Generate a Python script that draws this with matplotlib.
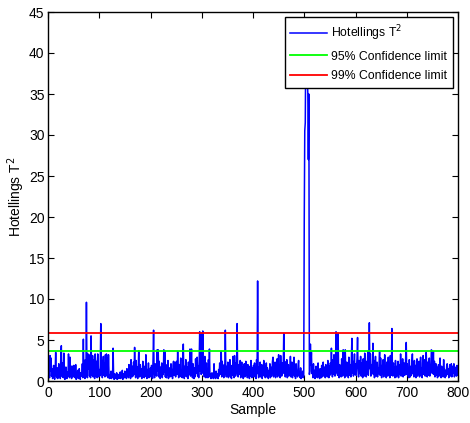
"""
Gráfico T^2 de Hotelling por muestra con límites de confianza 95% / 99%.
Valores leídos a ojo de la figura original.
"""
import numpy as np
import matplotlib
matplotlib.use("Agg")
import matplotlib.pyplot as plt

plt.rcParams['font.family'] = ['Liberation Sans', 'DejaVu Sans']

# T^2 por bloques de 100 muestras
t2_000 = [0.8, 2.3, 0.4, 3.1, 1.2, 2.8, 0.6, 1.5, 0.3, 0.9,
          1.9, 0.5, 0.2, 1.1, 3.5, 0.7, 0.4, 1.6, 0.3, 0.8,
          2.1, 0.6, 1.4, 0.3, 3.0, 4.3, 1.0, 0.5, 2.2, 0.4,
          3.4, 1.3, 0.2, 0.9, 1.7, 0.5, 0.3, 1.1, 0.6, 3.3,
          0.8, 0.4, 2.9, 0.6, 1.8, 0.3, 1.8, 1.2, 0.5, 1.9,
          0.7, 1.8, 0.4, 2.0, 0.2, 0.9, 0.5, 1.3, 0.3, 0.6,
          1.5, 0.4, 0.2, 1.0, 0.6, 0.8, 2.1, 0.4, 5.1, 0.6,
          1.2, 0.3, 2.6, 0.5, 9.6, 0.9, 0.4, 3.3, 1.5, 3.2,
          0.6, 2.0, 0.4, 5.5, 1.3, 0.7, 3.1, 0.5, 2.6, 1.0,
          0.3, 3.3, 1.8, 0.6, 2.4, 0.4, 3.3, 0.8, 0.5, 1.4]
t2_100 = [0.6, 1.9, 7.0, 0.8, 2.5, 0.4, 1.6, 3.0, 0.7, 2.2,
          0.5, 3.2, 1.1, 3.3, 0.6, 2.8, 0.4, 3.2, 1.0, 0.3,
          0.7, 0.4, 1.2, 0.3, 0.8, 0.5, 4.0, 0.6, 0.2, 0.9,
          0.4, 0.6, 0.3, 1.0, 0.2, 0.5, 0.8, 0.3, 0.6, 0.4,
          1.1, 0.3, 0.7, 0.5, 1.3, 0.2, 0.6, 0.9, 0.4, 1.2,
          0.5, 0.8, 0.3, 1.5, 0.6, 1.0, 0.4, 2.0, 0.7, 1.4,
          0.3, 2.6, 1.1, 0.5, 1.8, 0.6, 2.3, 0.8, 4.1, 1.2,
          0.4, 2.5, 0.6, 1.7, 0.3, 1.3, 3.7, 0.9, 0.5, 2.0,
          0.7, 1.5, 0.3, 0.9, 2.4, 0.5, 1.1, 0.4, 1.8, 0.6,
          3.2, 0.8, 0.3, 1.4, 0.5, 2.2, 0.4, 0.9, 0.6, 1.6]
t2_200 = [0.5, 1.9, 0.8, 0.3, 2.7, 6.2, 1.0, 0.4, 2.1, 0.7,
          1.5, 0.6, 3.8, 1.2, 3.8, 0.5, 2.4, 0.9, 0.3, 1.7,
          0.6, 2.2, 0.4, 1.3, 0.8, 3.8, 1.1, 3.6, 0.5, 2.0,
          0.4, 1.2, 0.7, 2.5, 0.3, 0.9, 1.6, 0.5, 0.8, 2.1,
          0.6, 1.4, 0.3, 1.9, 2.4, 0.7, 1.1, 2.3, 0.5, 1.6,
          2.4, 0.8, 3.6, 1.2, 0.4, 2.0, 0.6, 1.5, 2.8, 0.5,
          1.0, 0.4, 2.2, 4.5, 0.9, 0.3, 1.8, 0.6, 2.6, 1.1,
          0.5, 1.7, 0.3, 2.3, 0.8, 1.2, 3.9, 0.6, 1.5, 3.9,
          0.7, 0.4, 2.1, 1.0, 0.3, 1.6, 0.5, 2.7, 0.9, 1.3,
          2.9, 0.6, 1.8, 0.4, 2.5, 6.0, 1.2, 5.9, 0.8, 1.4]
t2_300 = [2.3, 6.1, 0.9, 2.8, 0.5, 3.0, 1.1, 0.4, 2.2, 0.7,
          1.5, 0.4, 2.6, 0.8, 3.9, 0.5, 0.9, 0.3, 0.6, 1.0,
          0.4, 0.7, 0.3, 2.1, 0.5, 0.8, 0.3, 1.2, 0.6, 0.4,
          0.9, 0.3, 1.4, 0.6, 2.2, 0.8, 1.7, 3.6, 0.5, 2.4,
          0.7, 1.3, 0.4, 2.0, 0.9, 6.2, 1.1, 0.5, 1.8, 0.6,
          2.3, 0.4, 1.5, 0.8, 2.6, 0.5, 1.2, 0.3, 1.9, 0.7,
          3.0, 1.0, 0.4, 3.1, 1.6, 0.6, 2.2, 0.9, 7.0, 1.3,
          0.5, 2.0, 0.8, 1.4, 2.5, 0.4, 1.1, 2.3, 0.6, 1.7,
          0.3, 1.2, 2.1, 0.5, 0.9, 2.4, 0.7, 1.5, 0.4, 2.0,
          0.8, 1.3, 0.3, 1.8, 0.6, 2.5, 1.0, 0.4, 1.6, 0.7]
t2_400 = [1.9, 0.5, 2.2, 0.8, 1.4, 0.3, 2.6, 0.9, 12.2, 1.1,
          0.4, 1.7, 0.6, 2.3, 0.5, 1.2, 2.0, 0.3, 1.5, 0.8,
          2.5, 0.6, 1.8, 0.4, 1.1, 2.2, 0.5, 1.6, 0.9, 0.3,
          1.3, 0.7, 2.1, 0.4, 1.7, 0.6, 1.0, 2.4, 2.9, 0.5,
          1.2, 0.8, 2.3, 0.4, 1.6, 0.9, 2.7, 0.5, 1.4, 3.2,
          0.7, 1.9, 0.4, 3.1, 1.2, 0.6, 2.2, 0.9, 1.5, 5.8,
          1.0, 2.4, 0.5, 1.8, 0.7, 2.6, 0.4, 1.3, 2.0, 0.6,
          1.5, 0.8, 3.0, 0.5, 1.1, 2.3, 0.4, 1.7, 0.9, 2.9,
          0.6, 1.4, 0.3, 2.1, 0.8, 1.2, 0.5, 1.9, 2.5, 0.7,
          1.0, 0.4, 1.6, 0.3, 0.8, 0.5, 1.2, 0.4, 0.6, 19.5]
t2_500 = [30.5, 31.5, 41.0, 38.0, 36.0, 37.0, 35.0, 27.0, 35.0, 0.8,
          1.2, 4.5, 2.0, 3.5, 0.9, 1.6, 0.4, 2.1, 0.7, 1.3,
          0.3, 0.9, 1.8, 0.5, 1.2, 0.4, 2.2, 0.6, 1.0, 0.3,
          1.5, 0.7, 0.4, 1.9, 0.5, 1.1, 2.3, 0.6, 0.9, 1.7,
          0.4, 2.0, 0.8, 1.3, 0.5, 2.5, 1.0, 0.4, 1.8, 0.7,
          2.2, 0.9, 4.0, 1.3, 0.5, 2.6, 0.8, 3.2, 1.1, 0.6,
          2.4, 6.0, 1.0, 2.8, 0.7, 5.8, 1.5, 0.4, 2.0, 0.9,
          1.6, 0.5, 2.7, 1.2, 0.6, 3.8, 0.9, 2.2, 0.4, 3.8,
          1.1, 0.6, 2.3, 0.8, 1.7, 0.4, 2.9, 1.3, 0.7, 2.0,
          0.5, 3.0, 5.2, 1.0, 2.4, 0.6, 1.9, 3.3, 0.8, 2.1]
t2_600 = [0.7, 1.6, 2.8, 5.3, 1.2, 0.5, 2.5, 0.9, 1.4, 3.0,
          0.6, 2.2, 1.0, 0.4, 2.7, 1.3, 0.6, 3.4, 0.8, 1.9,
          0.5, 2.4, 1.1, 3.6, 0.7, 1.8, 7.1, 1.5, 3.3, 0.6,
          2.0, 0.9, 1.4, 4.6, 0.8, 2.5, 0.4, 1.7, 3.0, 0.6,
          1.2, 2.3, 0.5, 1.6, 0.9, 2.1, 3.6, 0.7, 2.8, 1.1,
          0.4, 1.9, 0.8, 2.6, 0.5, 1.3, 3.2, 0.9, 1.7, 0.4,
          2.3, 1.0, 0.6, 2.9, 0.8, 1.5, 0.4, 3.1, 1.2, 0.7,
          6.4, 1.4, 0.6, 2.2, 0.9, 1.7, 0.4, 2.5, 1.1, 0.5,
          1.8, 0.7, 2.4, 0.4, 1.3, 2.0, 0.8, 3.3, 0.6, 1.5,
          0.9, 2.7, 0.5, 1.6, 2.2, 0.7, 1.2, 3.0, 4.7, 0.8]
t2_700 = [2.1, 0.6, 1.5, 0.4, 2.6, 1.0, 0.5, 1.8, 0.7, 2.3,
          3.3, 0.9, 1.4, 0.5, 2.5, 0.8, 1.9, 0.4, 1.2, 2.7,
          0.6, 1.7, 0.9, 2.4, 0.5, 1.3, 2.9, 0.7, 1.6, 0.4,
          2.2, 3.1, 0.8, 1.5, 2.6, 0.6, 1.9, 3.5, 1.0, 0.5,
          2.3, 0.7, 1.4, 2.8, 0.6, 1.8, 1.1, 3.8, 3.7, 0.9,
          1.6, 3.6, 0.8, 2.4, 0.5, 1.3, 2.1, 0.7, 1.7, 0.4,
          1.2, 2.0, 0.6, 1.5, 2.8, 0.9, 0.4, 1.8, 0.7, 1.3,
          0.5, 2.6, 0.9, 1.4, 0.4, 1.1, 0.6, 1.9, 2.1, 0.8,
          1.5, 0.4, 1.0, 2.0, 0.6, 1.3, 2.1, 0.5, 1.8, 0.9,
          1.4, 2.1, 0.5, 1.2, 0.8, 1.7, 0.6, 1.9, 1.3, 0.7]

lim_95 = 3.67
lim_99 = 5.9

t2 = np.array(t2_000 + t2_100 + t2_200 + t2_300 + t2_400 + t2_500 + t2_600 + t2_700)
sample = np.arange(1, len(t2) + 1)

fig = plt.figure(figsize=(4.7, 4.23), dpi=100)
ax = fig.add_axes([48 / 470, 42 / 423, 410 / 470, 369 / 423])

ax.plot(sample, t2, color="#0000ff", lw=1.1, label="Hotellings T$^2$")
ax.axhline(lim_95, color="#00ff00", lw=1.3, label="95% Confidence limit")
ax.axhline(lim_99, color="#ff0000", lw=1.3, label="99% Confidence limit")

ax.set_xlim(0, 800); ax.set_ylim(0, 45)
ax.set_xticks(np.arange(0, 801, 100)); ax.set_yticks(np.arange(0, 46, 5))
ax.tick_params(direction="in", top=True, right=True, length=4, labelsize=10)
ax.tick_params(axis="y", pad=2.5)
for sp in ax.spines.values():
    sp.set_linewidth(1.0)
ax.set_xlabel("Sample", fontsize=10, labelpad=2)
ax.set_ylabel("Hotellings T$^2$", fontsize=10)
ax.yaxis.set_label_coords(-20.5 / 410, 0.5)

leg = ax.legend(loc="upper right", fontsize=8.8, frameon=True, fancybox=False,
                edgecolor="black", framealpha=1, borderaxespad=0.45,
                handlelength=3.0, handletextpad=0.35, borderpad=0.45,
                labelspacing=0.65)
leg.get_frame().set_linewidth(1.0)

fig.savefig("out.png", dpi=100, facecolor="white")
